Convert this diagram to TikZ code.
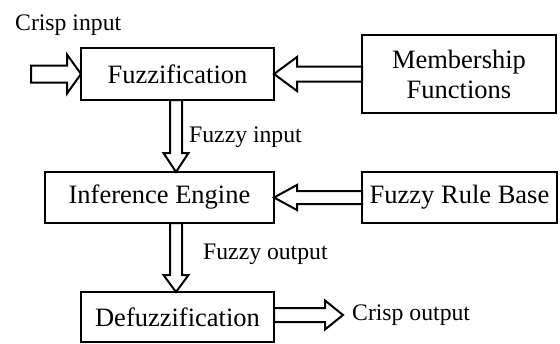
\documentclass[tikz,border=0pt]{standalone}
\usepackage{fontspec}
\setmainfont{Liberation Serif}
\usetikzlibrary{calc}
% block arrow: start, end, shaft half-width, head half-width, head length
\newcommand{\blockarr}[5]{%
  \path ($(#2)!#5!(#1)$) coordinate (H);
  \draw[arrline] ($(#1)!#3!90:(#2)$) -- ($(H)!#3!90:(#2)$) -- ($(H)!#4!90:(#2)$) -- (#2)
    -- ($(H)!#4!-90:(#2)$) -- ($(H)!#3!-90:(#2)$) -- ($(#1)!#3!-90:(#2)$) -- cycle;
}
\begin{document}
\begin{tikzpicture}[x=1pt,y=-1pt,
  box/.style={draw, line width=2.5pt, inner sep=0pt, outer sep=0pt,
    font=\fontsize{26.5}{30}\selectfont, align=center},
  lbl/.style={inner sep=0pt, anchor=base west, font=\fontsize{23.7}{28}\selectfont},
  arrline/.style={line width=2pt, line join=miter, fill=white}]
\useasboundingbox (0,0) rectangle (560,343);

\node[box, minimum width=193pt, minimum height=52pt] (fuzz) at (177.5,74) {Fuzzification};
\node[box, minimum width=194pt, minimum height=78pt] (mf) at (459,74) {Membership\\Functions};
\node[box, minimum width=229pt, minimum height=51pt] (inf) at (159.5,197.5) {Inference Engine};
\node[box, minimum width=195pt, minimum height=51pt] (frb) at (459.5,197.5) {Fuzzy Rule Base};
\node[box, minimum width=193pt, minimum height=50pt] (defuzz) at (177.5,317) {Defuzzification};

\node[lbl] (lin) at (15,30) {Crisp input};
\node[lbl] (lfi) at (189,142) {Fuzzy input};
\node[lbl] (lfo) at (203,259) {Fuzzy output};
\node[lbl] (lout) at (352,320) {Crisp output};

\coordinate (cin) at (31,74);
\coordinate (cout) at (343,315);
\coordinate (fiA) at (176,100);
\coordinate (fiB) at (176,172);
\coordinate (foA) at (176,223);
\coordinate (foB) at (176,292);
\coordinate (rbA) at (frb.west);
\coordinate (rbB) at (inf.east |- frb.west);
\coordinate (doA) at (defuzz.east |- cout);

\blockarr{cin}{fuzz.west}{8.5pt}{19.5pt}{14pt}
\blockarr{mf.west}{fuzz.east}{7.5pt}{17pt}{23pt}
\blockarr{fiA}{fiB}{6pt}{12.5pt}{19pt}
\blockarr{rbA}{rbB}{6.5pt}{12.5pt}{23pt}
\blockarr{foA}{foB}{6pt}{12.5pt}{17pt}
\blockarr{doA}{cout}{7pt}{14.5pt}{18pt}
\end{tikzpicture}
\end{document}
